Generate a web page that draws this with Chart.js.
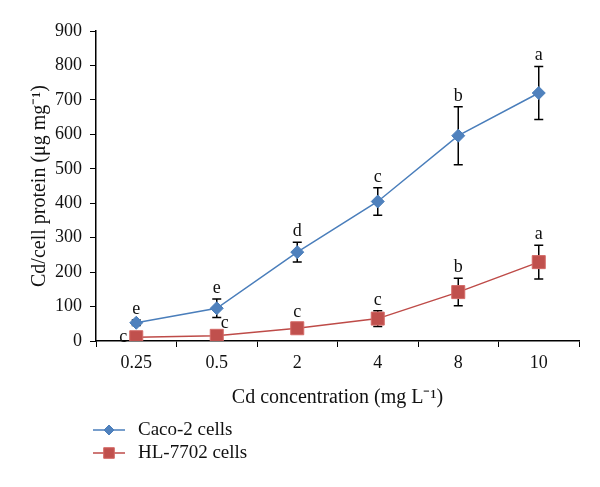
<!DOCTYPE html>
<html>
<head>
<meta charset="utf-8">
<script src="https://cdn.jsdelivr.net/npm/chart.js@4"></script>
<style>
    html, body { margin: 0; padding: 0; background: #fff; }
</style>
</head>
<body>
<canvas id="myChart" width="600" height="487"></canvas>
<script>
let concentrations = ["0.25", "0.5", "2", "4", "8", "10"];

let caco2 = [53, 95, 258, 405, 596, 720];
let caco2Err = [8, 27, 29, 40, 84, 77];
let caco2Letters = ["e", "e", "d", "c", "b", "a"];

let hl7702 = [11, 15, 37, 65, 142, 229];
let hl7702Err = [5, 5, 15, 23, 40, 49];
let hl7702Letters = ["c", "c", "c", "c", "b", "a"];

let yMin = 0;
let yMax = 900;
let yStep = 100;

let serif = "'Liberation Serif', 'Times New Roman', serif";

// error bars, letters and legend
const extras = {
    id: "extras",
    beforeDatasetsDraw(chart) {
        let ctx = chart.ctx;
        let y = chart.scales.y;
        ctx.save();
        ctx.strokeStyle = "#000";
        ctx.lineWidth = 1.5;
        chart.data.datasets.forEach((ds, di) => {
            let meta = chart.getDatasetMeta(di);
            meta.data.forEach((pt, i) => {
                let top = y.getPixelForValue(ds.data[i] + ds.err[i]);
                let bot = y.getPixelForValue(ds.data[i] - ds.err[i]);
                ctx.beginPath();
                ctx.moveTo(pt.x, top);
                ctx.lineTo(pt.x, bot);
                ctx.moveTo(pt.x - 4.5, top);
                ctx.lineTo(pt.x + 4.5, top);
                ctx.moveTo(pt.x - 4.5, bot);
                ctx.lineTo(pt.x + 4.5, bot);
                ctx.stroke();
            });
        });
        ctx.restore();
    },
    afterDatasetsDraw(chart) {
        let ctx = chart.ctx;
        let y = chart.scales.y;
        ctx.save();
        ctx.fillStyle = "#111";
        ctx.font = "18px " + serif;
        ctx.textAlign = "center";
        ctx.textBaseline = "alphabetic";
        chart.data.datasets.forEach((ds, di) => {
            let meta = chart.getDatasetMeta(di);
            meta.data.forEach((pt, i) => {
                let top = y.getPixelForValue(ds.data[i] + ds.err[i]);
                let tx = pt.x;
                let ty = top - 6;
                // two low red labels sit beside the marker
                if (di === 1 && i === 0) { tx = pt.x - 13; ty = pt.y + 5; }
                if (di === 1 && i === 1) { tx = pt.x + 8; ty = pt.y - 8; }
                ctx.fillText(ds.letters[i], tx, ty);
            });
        });
        ctx.restore();
    },
    afterDraw(chart) {
        let ctx = chart.ctx;
        let helpers = Chart.helpers;
        let rows = [430, 453];
        chart.data.datasets.forEach((ds, di) => {
            let ly = rows[di];
            ctx.save();
            ctx.strokeStyle = ds.borderColor;
            ctx.lineWidth = 1.5;
            ctx.beginPath();
            ctx.moveTo(93, ly);
            ctx.lineTo(125, ly);
            ctx.stroke();
            ctx.fillStyle = ds.pointBackgroundColor;
            ctx.strokeStyle = ds.pointBorderColor;
            ctx.lineWidth = 1;
            helpers.drawPoint(ctx, {
                pointStyle: ds.pointStyle,
                radius: di === 0 ? 5 : 7.5,
                borderWidth: 1,
                rotation: 0
            }, 109, ly);
            ctx.restore();

            ctx.save();
            ctx.font = "19px " + serif;
            ctx.textAlign = "left";
            ctx.textBaseline = "middle";
            ctx.fillStyle = "#111";
            ctx.fillText(ds.label, 138, ly);
            ctx.restore();
        });
    }
};

let ctx = document.getElementById("myChart").getContext("2d");

let chart = new Chart(ctx, {
    type: "line",
    data: {
        labels: concentrations,
        datasets: [{
            label: "Caco-2 cells",
            data: caco2,
            err: caco2Err,
            letters: caco2Letters,
            borderColor: "#4A7EBB",
            borderWidth: 1.5,
            pointStyle: "rectRot",
            pointRadius: 6.5,
            pointBackgroundColor: "#4F81BD",
            pointBorderColor: "#4A7EBB",
            pointBorderWidth: 1,
            tension: 0
        }, {
            label: "HL-7702 cells",
            data: hl7702,
            err: hl7702Err,
            letters: hl7702Letters,
            borderColor: "#BE4B48",
            borderWidth: 1.5,
            pointStyle: "rect",
            pointRadius: 9.2,
            pointBackgroundColor: "#C0504D",
            pointBorderColor: "#D46A67",
            pointBorderWidth: 1,
            tension: 0
        }]
    },
    options: {
        responsive: false,
        animation: false,
        layout: {
            padding: { left: 0, right: 21, top: 31, bottom: 0 }
        },
        plugins: {
            legend: { display: false },
            tooltip: { enabled: false }
        },
        scales: {
            x: {
                offset: true,
                afterFit: scale => { scale.height = 146; },
                grid: {
                    offset: true,
                    drawOnChartArea: false,
                    drawTicks: true,
                    tickLength: 6,
                    color: "#000"
                },
                border: { color: "#000", width: 1.5 },
                ticks: {
                    color: "#111",
                    padding: 5,
                    font: { family: serif, size: 18 }
                },
                title: {
                    display: true,
                    text: "Cd concentration (mg L\u207B\u00B9)",
                    color: "#111",
                    padding: { top: 4, bottom: 77 },
                    font: { family: serif, size: 20 }
                }
            },
            y: {
                min: yMin,
                max: yMax,
                afterFit: scale => { scale.width = 96; },
                grid: {
                    drawOnChartArea: false,
                    drawTicks: true,
                    tickLength: 6,
                    color: "#000"
                },
                border: { color: "#000", width: 1.5 },
                ticks: {
                    stepSize: yStep,
                    color: "#111",
                    padding: 8,
                    font: { family: serif, size: 18 }
                },
                title: {
                    display: true,
                    text: "Cd/cell protein (\u03BCg mg\u207B\u00B9)",
                    color: "#111",
                    padding: { top: 28, bottom: 0 },
                    font: { family: serif, size: 20 }
                }
            }
        }
    },
    plugins: [extras]
});
</script>
</body>
</html>
